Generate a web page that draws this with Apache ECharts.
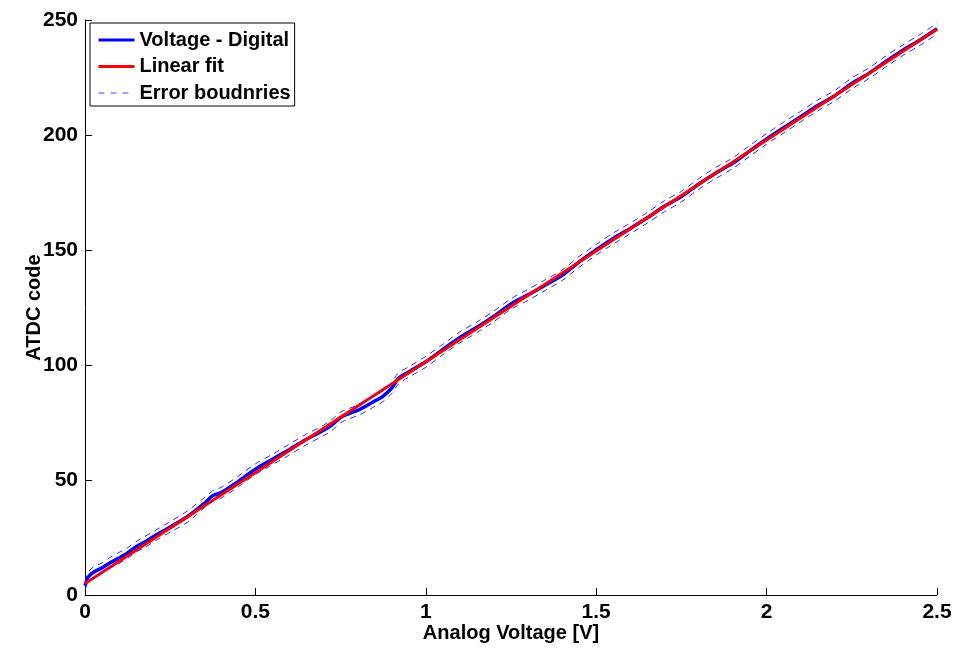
<!DOCTYPE html>
<html>
<head>
<meta charset="utf-8">
<script src="https://cdn.jsdelivr.net/npm/echarts@6/dist/echarts.min.js"></script>
<style>html,body{margin:0;padding:0;background:#fff}#c{width:969px;height:648px}</style>
</head>
<body>
<div id="c"></div>
<script>
var voltage = [0, 0.01, 0.025, 0.05, 0.075, 0.1, 0.125, 0.15, 0.175, 0.2, 0.25, 0.3, 0.35, 0.375, 0.4, 0.45, 0.5, 0.55, 0.6, 0.65, 0.7, 0.725, 0.75, 0.775, 0.8, 0.825, 0.85, 0.875, 0.9, 0.92, 0.95, 1.0, 1.05, 1.1, 1.15, 1.2, 1.25, 1.3, 1.35, 1.4, 1.45, 1.5, 1.55, 1.6, 1.65, 1.7, 1.75, 1.8, 1.85, 1.9, 1.95, 2.0, 2.05, 2.1, 2.15, 2.2, 2.25, 2.3, 2.35, 2.4, 2.45, 2.5];
var digital = [4, 7.9, 9.9, 11.8, 14.1, 16.1, 18.3, 21.0, 23.0, 25.3, 29.6, 34.0, 39.8, 43.2, 44.5, 49.4, 54.7, 59.0, 63.3, 67.7, 71.6, 74.0, 77.2, 78.9, 80.3, 82.2, 84.3, 86.5, 90.0, 94.2, 97.0, 101.4, 106.8, 112.0, 116.4, 121.2, 126.5, 130.5, 134.7, 139.0, 144.8, 150.1, 155.0, 159.4, 164.0, 169.0, 173.2, 178.6, 183.4, 187.7, 193.0, 198.3, 203.2, 208.0, 212.8, 217.1, 222.4, 226.8, 232.0, 236.9, 241.3, 246.2];
var errUpper = [6.0, 10.0, 12.2, 14.0, 16.5, 18.5, 20.6, 23.2, 25.4, 27.5, 31.9, 36.5, 42.3, 45.3, 46.8, 51.7, 57.0, 61.2, 65.6, 70.0, 73.8, 76.4, 79.5, 81.1, 82.6, 84.4, 86.6, 88.8, 92.4, 96.6, 99.2, 103.8, 109.0, 114.4, 118.7, 123.5, 128.8, 132.9, 137.0, 141.3, 147.2, 152.4, 157.4, 161.7, 166.3, 171.4, 175.5, 180.9, 185.8, 190.0, 195.4, 200.6, 205.6, 210.3, 215.2, 219.4, 224.8, 229.1, 234.4, 239.2, 243.7, 248.5];
var errLower = [2.0, 5.7, 7.6, 9.5, 11.8, 13.7, 16.0, 18.7, 20.6, 23.0, 27.3, 31.6, 37.9, 40.9, 42.2, 47.1, 52.4, 56.7, 60.9, 65.4, 69.3, 71.6, 74.9, 76.6, 78.0, 79.9, 82.0, 84.2, 87.6, 91.8, 94.7, 99.0, 104.5, 109.6, 114.1, 118.9, 124.2, 128.1, 132.4, 136.7, 142.5, 147.8, 152.6, 157.1, 161.7, 166.6, 170.9, 176.3, 181.0, 185.4, 190.7, 196.0, 200.9, 205.7, 210.5, 214.8, 220.1, 224.5, 229.6, 234.6, 239.0, 243.9];
var fitX = [0, 2.5];
var fitY = [5, 246];
var seriesNames = ['Voltage - Digital', 'Linear fit', 'Error boudnries'];

function pairs(xs, ys) { return xs.map(function (x, i) { return [x, ys[i]]; }); }

var FONT = 'Liberation Sans, Arial, sans-serif';
var chart = echarts.init(document.getElementById('c'), null, { renderer: 'canvas' });
chart.setOption({
  animation: false,
  backgroundColor: '#ffffff',
  grid: { left: 85, right: 32, top: 20, bottom: 51, containLabel: false },
  legend: {
    left: 90, top: 23,
    orient: 'vertical',
    data: [
      { name: seriesNames[0], lineStyle: { width: 3, color: '#0000ff' } },
      { name: seriesNames[1], lineStyle: { width: 3, color: '#ff0000' } },
      { name: seriesNames[2], lineStyle: { width: 1, color: '#4444ff', type: [6, 6] } }
    ],
    backgroundColor: '#fff',
    borderColor: '#000', borderWidth: 1, borderRadius: 0,
    padding: [7, 4, 3, 7],
    itemGap: 6.5, itemWidth: 36, itemHeight: 19,
    itemStyle: { opacity: 0 },
    textStyle: { fontFamily: FONT, fontWeight: 'bold', fontSize: 20, color: '#000' }
  },
  xAxis: {
    type: 'value', min: 0, max: 2.5, interval: 0.5,
    name: 'Analog Voltage [V]', nameLocation: 'middle', nameGap: 28, nameMoveOverlap: false,
    nameTextStyle: { fontFamily: FONT, fontWeight: 'bold', fontSize: 20, color: '#000' },
    axisLine: { show: true, onZero: false, lineStyle: { color: '#000', width: 1 } },
    axisTick: { show: true, inside: true, length: 7, lineStyle: { color: '#000' } },
    axisLabel: { fontFamily: FONT, fontWeight: 'bold', fontSize: 21, color: '#000', margin: 7,
      formatter: function (v) { return String(v); } },
    splitLine: { show: false }
  },
  yAxis: {
    type: 'value', min: 0, max: 250, interval: 50,
    name: 'ATDC code', nameLocation: 'middle', nameGap: 41, nameRotate: 90, nameMoveOverlap: false,
    nameTextStyle: { fontFamily: FONT, fontWeight: 'bold', fontSize: 20, color: '#000' },
    axisLine: { show: true, onZero: false, lineStyle: { color: '#000', width: 1 } },
    axisTick: { show: true, inside: true, length: 7, lineStyle: { color: '#000' } },
    axisLabel: { fontFamily: FONT, fontWeight: 'bold', fontSize: 21, color: '#000', margin: 7 },
    splitLine: { show: false }
  },
  series: [
    { name: seriesNames[0], type: 'line', data: pairs(voltage, digital), symbol: 'none', smooth: 0.3,
      lineStyle: { color: '#0000ff', width: 3.5 }, itemStyle: { color: '#0000ff' }, z: 2 },
    { name: seriesNames[1], type: 'line', data: pairs(fitX, fitY), symbol: 'none',
      lineStyle: { color: '#ff0000', width: 3 }, itemStyle: { color: '#ff0000' }, z: 3 },
    { name: seriesNames[2], type: 'line', data: pairs(voltage, errUpper), symbol: 'none', smooth: 0.3,
      lineStyle: { color: '#2a2aff', width: 1, type: [6, 5] }, itemStyle: { color: '#2a2aff' }, z: 4 },
    { name: seriesNames[2], type: 'line', data: pairs(voltage, errLower), symbol: 'none', smooth: 0.3,
      lineStyle: { color: '#2a2aff', width: 1, type: [6, 5] }, itemStyle: { color: '#2a2aff' }, z: 4 }
  ]
});
</script>
</body>
</html>
